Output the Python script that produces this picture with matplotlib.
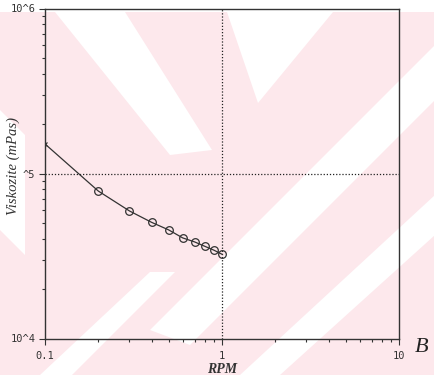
import matplotlib
matplotlib.use("Agg")
import matplotlib.pyplot as plt
from matplotlib.patches import Polygon
from matplotlib.ticker import FixedLocator, FixedFormatter, LogLocator, NullFormatter

# values (RPM vs viscosity, log-log)
rpm = [0.1, 0.2, 0.3, 0.4, 0.5, 0.6, 0.7, 0.8, 0.9, 1.0]
viskozite = [1.51e5, 7.83e4, 5.93e4, 5.06e4, 4.55e4, 4.07e4, 3.85e4, 3.62e4, 3.43e4, 3.24e4]

x_ticks = [0.1, 1, 10]
x_labels = ["0.1", "1", "10"]
y_ticks = [1e4, 1e5, 1e6]
y_labels = ["10^4", "^5", "10^6"]

W, H = 435, 392
fig = plt.figure(figsize=(W / 100, H / 100), dpi=100)

# pale pink watermark of the scanned page (pixel coords, y down)
def px_poly(pts, color):
    pts = [(x / W, 1 - y / H) for x, y in pts]
    fig.patches.append(Polygon(pts, closed=True, transform=fig.transFigure,
                               facecolor=color, edgecolor="none", zorder=-5))

pink = "#fde8ec"
px_poly([(0, 12), (435, 12), (435, 375), (0, 375)], pink)
px_poly([(55, 12), (125, 12), (212, 150), (170, 155)], "white")
px_poly([(227, 12), (333, 12), (258, 103)], "white")
px_poly([(0, 110), (0, 230), (25, 255), (25, 135)], "white")
px_poly([(150, 330), (435, 45), (435, 100), (190, 345)], "white")
px_poly([(240, 375), (435, 195), (435, 235), (280, 375)], "white")
px_poly([(40, 375), (150, 272), (175, 272), (72, 375)], "white")

ax = fig.add_axes([45 / W, 1 - 338.5 / H, 354 / W, 330 / H])
ax.set_zorder(1)
ax.set_facecolor("none")

ax.plot(rpm, viskozite, color="#333333", lw=0.9, zorder=3)
ax.plot(rpm[1:], viskozite[1:], "o", mfc="none", mec="#333333", ms=5.5, mew=0.9, zorder=4)
ax.plot(rpm[:1], viskozite[:1], "x", color="#333333", ms=3.5, mew=0.9, zorder=4)

ax.axvline(1, color="#222222", lw=0.9, ls=(0, (1, 1.5)), zorder=2)
ax.axhline(1e5, color="#222222", lw=0.9, ls=(0, (1, 1.5)), zorder=2)

ax.set_xscale("log")
ax.set_yscale("log")
ax.set_xlim(0.1, 10)
ax.set_ylim(1e4, 1e6)

ax.xaxis.set_major_locator(FixedLocator(x_ticks))
ax.xaxis.set_major_formatter(FixedFormatter(x_labels))
ax.xaxis.set_minor_locator(LogLocator(base=10, subs=range(2, 10)))
ax.xaxis.set_minor_formatter(NullFormatter())
ax.yaxis.set_major_locator(FixedLocator(y_ticks))
ax.yaxis.set_major_formatter(FixedFormatter(y_labels))
ax.yaxis.set_minor_locator(LogLocator(base=10, subs=range(2, 10)))
ax.yaxis.set_minor_formatter(NullFormatter())

ax.tick_params(which="major", direction="out", length=4, width=0.8, color="#333333",
               labelsize=7.5, pad=3)
ax.tick_params(axis="x", which="major", pad=5)
ax.tick_params(which="minor", direction="out", length=2.5, width=0.8, color="#333333")
for lab in ax.get_xticklabels() + ax.get_yticklabels():
    lab.set_family("DejaVu Sans Mono")
    lab.set_color("#333333")

for s in ax.spines.values():
    s.set_color("#333333")
    s.set_linewidth(1.0)

ax.set_ylabel("Viskozite (mPas)", family="Liberation Serif", style="italic",
              fontsize=10.5, color="#333333")
ax.yaxis.set_label_coords(-0.07, 0.523)
ax.set_xlabel("RPM", family="Liberation Serif", style="italic", weight="bold",
              fontsize=10, color="#333333")
ax.xaxis.set_label_coords(0.5, -0.075)
fig.text(422 / W, 1 - 347 / H, "B", family="Liberation Serif", style="italic",
         fontsize=16, color="#222222", ha="center", va="center")

fig.savefig("out.png", dpi=100)
